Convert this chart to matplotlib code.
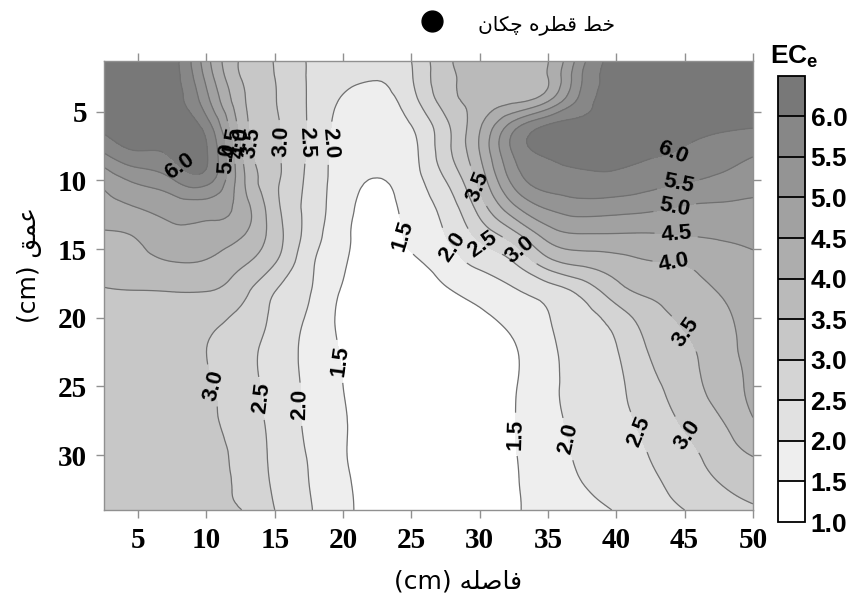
import numpy as np
import matplotlib
matplotlib.use("Agg")
import matplotlib.pyplot as plt
import matplotlib.tri as mtri

# ---------------- data ----------------
distance_cm = [2.5, 5, 7.5, 10, 12.5, 15, 17.5, 20, 22.5, 25,
               27.5, 30, 32.5, 35, 37.5, 40, 42.5, 45, 47.5, 50]
depth_cm = [1.3, 2.5, 4, 6, 8, 10, 12, 14, 16, 18, 20, 22.5, 25, 27.5, 30, 32, 34]

ece_d01 = [6.40, 6.35, 6.20, 4.70, 3.45, 2.98, 2.45, 2.20, 2.15, 2.50, 3.38, 3.65, 3.82, 3.99, 5.35, 6.15, 6.30, 6.35, 6.35, 6.35]
ece_d02 = [6.40, 6.35, 6.20, 4.86, 3.50, 3.00, 2.45, 2.12, 2.03, 2.46, 3.35, 3.65, 3.82, 4.00, 5.50, 6.15, 6.30, 6.35, 6.35, 6.35]
ece_d04 = [6.35, 6.30, 6.20, 5.13, 3.64, 3.02, 2.45, 1.97, 1.85, 2.33, 3.27, 3.65, 3.84, 4.31, 5.66, 6.15, 6.30, 6.35, 6.35, 6.35]
ece_d06 = [6.15, 6.25, 6.20, 5.75, 3.82, 3.05, 2.45, 1.85, 1.72, 2.00, 2.88, 3.93, 5.27, 6.05, 6.20, 6.20, 6.20, 6.15, 6.10, 6.05]
ece_d08 = [5.50, 5.95, 6.10, 6.04, 4.07, 3.09, 2.42, 1.80, 1.62, 1.85, 2.81, 4.00, 5.56, 6.10, 6.20, 6.15, 6.05, 5.95, 5.75, 5.55]
ece_d10 = [4.65, 5.10, 5.45, 5.70, 4.21, 3.10, 2.38, 1.74, 1.48, 1.78, 2.50, 3.67, 5.17, 5.75, 5.85, 5.85, 5.70, 5.55, 5.40, 5.25]
ece_d12 = [4.30, 4.50, 4.70, 4.75, 4.30, 3.17, 2.34, 1.68, 1.35, 1.67, 2.18, 3.20, 4.38, 5.05, 5.25, 5.20, 5.10, 4.95, 4.90, 4.85]
ece_d14 = [3.93, 4.05, 4.35, 4.30, 4.05, 3.25, 2.30, 1.62, 1.30, 1.60, 2.00, 2.63, 3.31, 4.20, 4.45, 4.45, 4.45, 4.50, 4.55, 4.60]
ece_d16 = [3.70, 3.83, 3.98, 3.95, 3.60, 3.02, 2.13, 1.55, 1.25, 1.40, 1.74, 2.12, 2.49, 3.29, 3.62, 3.80, 3.97, 4.03, 4.25, 4.40]
ece_d18 = [3.48, 3.50, 3.52, 3.52, 3.19, 2.52, 2.04, 1.45, 1.20, 1.20, 1.45, 1.70, 1.96, 2.26, 2.68, 3.31, 3.62, 3.80, 4.02, 4.20]
ece_d20 = [3.40, 3.40, 3.30, 3.15, 2.88, 2.39, 1.93, 1.38, 1.15, 1.15, 1.20, 1.40, 1.66, 1.98, 2.29, 2.73, 3.26, 3.60, 3.89, 4.15]
ece_d22 = [3.35, 3.30, 3.20, 3.00, 2.68, 2.31, 1.86, 1.45, 1.12, 1.10, 1.12, 1.18, 1.45, 1.88, 2.20, 2.47, 3.04, 3.38, 3.80, 4.10]
ece_d25 = [3.30, 3.25, 3.15, 3.05, 2.73, 2.32, 1.90, 1.50, 1.15, 1.10, 1.10, 1.15, 1.46, 1.88, 2.17, 2.40, 2.85, 3.26, 3.70, 4.10]
ece_d27 = [3.25, 3.20, 3.15, 3.07, 2.80, 2.35, 1.92, 1.56, 1.15, 1.10, 1.10, 1.15, 1.48, 1.86, 2.14, 2.36, 2.67, 3.08, 3.45, 3.97]
ece_d30 = [3.20, 3.18, 3.14, 3.08, 2.89, 2.38, 1.97, 1.55, 1.20, 1.10, 1.12, 1.20, 1.47, 1.79, 2.07, 2.25, 2.52, 2.83, 3.21, 3.52]
ece_d32 = [3.20, 3.18, 3.14, 3.08, 2.92, 2.42, 2.00, 1.60, 1.25, 1.12, 1.12, 1.20, 1.45, 1.75, 2.00, 2.20, 2.41, 2.70, 3.00, 3.22]
ece_d34 = [3.20, 3.18, 3.13, 3.07, 3.01, 2.50, 2.04, 1.62, 1.30, 1.15, 1.12, 1.20, 1.45, 1.65, 1.83, 2.03, 2.27, 2.50, 2.75, 2.93]

ec_levels = [1.0, 1.5, 2.0, 2.5, 3.0, 3.5, 4.0, 4.5, 5.0, 5.5, 6.0, 6.5]
colorbar_ticks = [1.0, 1.5, 2.0, 2.5, 3.0, 3.5, 4.0, 4.5, 5.0, 5.5, 6.0]
x_ticks = [5, 10, 15, 20, 25, 30, 35, 40, 45, 50]
y_ticks = [5, 10, 15, 20, 25, 30]
dripper_x = 26.5

title_text = "خط قطره چکان"
xlabel_text = "فاصله (cm)"
ylabel_text = "عمق (cm)"

# contour label anchor points (distance, depth)
label_points = [
    (8.1, 8.9), (11.2, 8.4), (12.0, 7.2), (12.7, 7.2), (13.6, 7.2), (15.3, 7.2),
    (17.2, 7.2), (19.2, 7.3), (24.4, 14.0), (27.8, 15.0), (30.0, 15.0),
    (32.7, 15.3), (29.9, 10.4), (44.2, 8.2), (44.4, 9.6), (44.2, 11.6),
    (44.4, 13.7), (44.2, 16.2), (45.2, 21.0), (45.2, 28.5), (41.7, 28.3),
    (37.9, 28.5), (32.4, 28.5), (10.3, 25.0), (13.8, 25.9), (16.8, 26.3),
    (19.6, 23.2),
]

fill_colors = ["#ffffff", "#eeeeee", "#e1e1e1", "#d4d4d4", "#c7c7c7", "#bababa",
               "#adadad", "#a1a1a1", "#949494", "#878787", "#787878"]

# ------------- simple Persian shaping for display -------------
FORMS = {
    'ا': ('\uFE8D', '\uFE8E', None, None),
    'ر': ('\uFEAD', '\uFEAE', None, None),
    'خ': ('\uFEA5', '\uFEA6', '\uFEA7', '\uFEA8'),
    'ط': ('\uFEC1', '\uFEC2', '\uFEC3', '\uFEC4'),
    'ق': ('\uFED5', '\uFED6', '\uFED7', '\uFED8'),
    'ه': ('\uFEE9', '\uFEEA', '\uFEEB', '\uFEEC'),
    'چ': ('\uFB7A', '\uFB7B', '\uFB7C', '\uFB7D'),
    'ک': ('\uFB8E', '\uFB8F', '\uFB90', '\uFB91'),
    'ن': ('\uFEE5', '\uFEE6', '\uFEE7', '\uFEE8'),
    'ع': ('\uFEC9', '\uFECA', '\uFECB', '\uFECC'),
    'م': ('\uFEE1', '\uFEE2', '\uFEE3', '\uFEE4'),
    'ف': ('\uFED1', '\uFED2', '\uFED3', '\uFED4'),
    'ص': ('\uFEB9', '\uFEBA', '\uFEBB', '\uFEBC'),
    'ل': ('\uFEDD', '\uFEDE', '\uFEDF', '\uFEE0'),
}


def shape_word(w):
    out = []
    for i, c in enumerate(w):
        f = FORMS.get(c)
        if f is None:
            out.append(c)
            continue
        prev = w[i - 1] if i > 0 else None
        nxt = w[i + 1] if i < len(w) - 1 else None
        jp = prev in FORMS and FORMS[prev][2] is not None
        jn = nxt in FORMS and f[2] is not None
        if jp and jn:
            out.append(f[3])
        elif jp:
            out.append(f[1])
        elif jn:
            out.append(f[2])
        else:
            out.append(f[0])
    return ''.join(reversed(out))


def rtl(text):
    toks = text.split(' ')
    vis = [shape_word(t) if any(c in FORMS for c in t) else t for t in toks]
    return ' '.join(reversed(vis))


# ---------------- plot ----------------
plt.rcParams['mathtext.fontset'] = 'custom'
plt.rcParams['mathtext.bf'] = 'Liberation Sans:bold'
plt.rcParams['mathtext.rm'] = 'Liberation Sans'

fig = plt.figure(figsize=(8.54, 5.99), dpi=100)
ax = fig.add_axes([0.1218, 0.1486, 0.7599, 0.7496])

ece_grid = np.array([ece_d01, ece_d02, ece_d04, ece_d06, ece_d08, ece_d10, ece_d12,
                     ece_d14, ece_d16, ece_d18, ece_d20, ece_d22, ece_d25, ece_d27,
                     ece_d30, ece_d32, ece_d34])
X, Y = np.meshgrid(distance_cm, depth_cm)
tri = mtri.Triangulation(X.ravel(), Y.ravel())
refiner = mtri.UniformTriRefiner(tri)
tri_f, z_f = refiner.refine_field(ece_grid.ravel(), subdiv=3)
z_f = np.clip(z_f, ec_levels[0] + 0.01, ec_levels[-1] - 0.01)

cf = ax.tricontourf(tri_f, z_f, levels=ec_levels, colors=fill_colors)
cl = ax.tricontour(tri_f, z_f, levels=ec_levels[1:-1], colors='#707070', linewidths=0.9)
texts = ax.clabel(cl, manual=label_points, inline=True, inline_spacing=4,
                  fmt='%.1f', fontsize=16, colors='k')
for t in texts:
    t.set_fontweight('bold')
    t.set_family('Liberation Sans')

ax.set_xlim(2.5, 50)
ax.set_ylim(34, 1.3)
ax.set_xticks(x_ticks)
ax.set_yticks(y_ticks)
ax.tick_params(direction='out', length=6, width=1, color='#909090',
               top=True, right=True, labeltop=False, labelright=False, pad=6)
for lab in ax.get_xticklabels() + ax.get_yticklabels():
    lab.set_family('Liberation Serif')
    lab.set_fontweight('bold')
    lab.set_fontsize(21)
for s in ax.spines.values():
    s.set_color('#909090')
    s.set_linewidth(1)

# dripper
ax.plot([dripper_x], [1.09], 'o', color='black', markersize=15,
        transform=ax.get_xaxis_transform(), clip_on=False)

# colorbar
cax = fig.add_axes([0.911, 0.1285, 0.0316, 0.745])
cb = fig.colorbar(cf, cax=cax, ticks=colorbar_ticks, drawedges=True)
cb.outline.set_edgecolor('black')
cb.outline.set_linewidth(1.3)
cb.dividers.set_color('black')
cb.dividers.set_linewidth(1.3)
cax.tick_params(length=0, pad=4)
cax.set_yticklabels(['%.1f' % v for v in colorbar_ticks])
for lab in cax.get_yticklabels():
    lab.set_family('Liberation Sans')
    lab.set_fontweight('bold')
    lab.set_fontsize(19)
fig.text(0.93, 0.905, r'$\mathbf{EC_e}$', ha='center', va='center', fontsize=19)

# Persian labels
fig.text(547 / 854, 1 - 25 / 599, rtl(title_text), ha='center', va='center',
         fontsize=14.5, family='DejaVu Sans')
fig.text(458 / 854, 1 - 582 / 599, rtl(xlabel_text), ha='center', va='center',
         fontsize=18, family='DejaVu Sans')
fig.text(30 / 854, 1 - 265 / 599, rtl(ylabel_text), ha='center', va='center',
         rotation=90, fontsize=18, family='DejaVu Sans')

fig.savefig('out.png', dpi=100)
